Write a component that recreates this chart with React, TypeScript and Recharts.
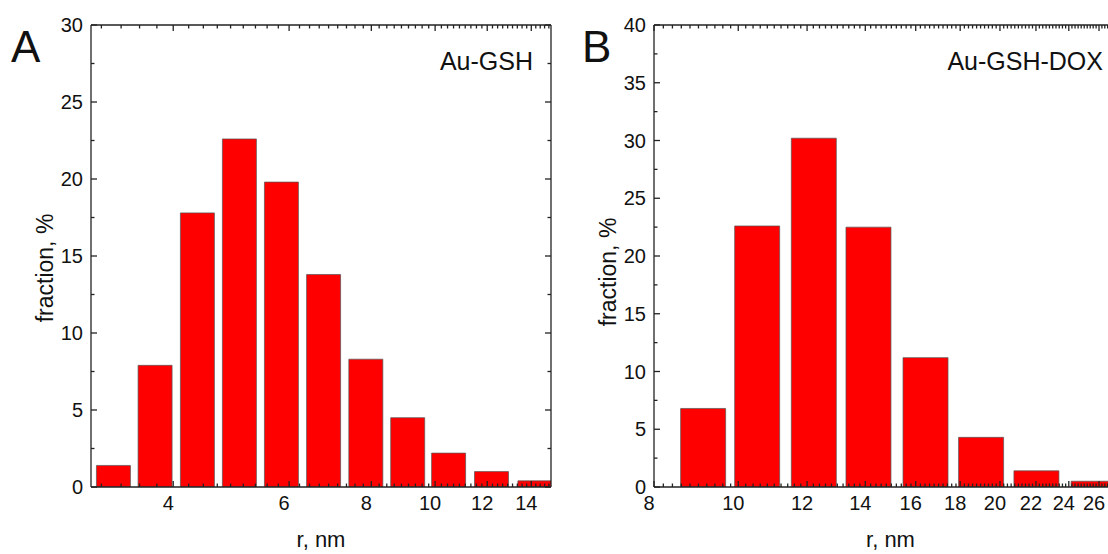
import { BarChart, Bar, XAxis, YAxis, ReferenceLine } from 'recharts';

// bin centres (nm) and fraction (%) per bin
const binsA = [3.25, 3.76, 4.36, 5.05, 5.85, 6.78, 7.86, 9.1, 10.5, 12.2, 14.2];
const fractionA = [1.4, 7.9, 17.8, 22.6, 19.8, 13.8, 8.3, 4.5, 2.2, 1.0, 0.4];

const binsB = [9.1, 10.5, 12.2, 14.1, 16.4, 19.0, 22.0, 25.6];
const fractionB = [6.8, 22.6, 30.2, 22.5, 11.2, 4.3, 1.4, 0.5];

const rTicksA = [4, 6, 8, 10, 12, 14];
const rTicksB = [8, 10, 12, 14, 16, 18, 20, 22, 24, 26];
const yTicksA = [0, 5, 10, 15, 20, 25, 30];
const yTicksB = [0, 5, 10, 15, 20, 25, 30, 35, 40];

const FONT = '"Liberation Sans", Arial, sans-serif';
const INK = '#111';
const AXIS = '#222';
const TOP = 25;
const BOTTOM = 487;

// major ticks plus evenly spaced minor ticks between them
const withMinors = (majors: number[], parts: number, lo: number, hi: number) => {
  const step = (majors[1] - majors[0]) / parts;
  const out: number[] = [];
  let v = majors[0];
  while (v - step > lo + 1e-6) v -= step;
  for (; v < hi - 1e-6; v += step) out.push(+v.toFixed(4));
  return out;
};

const isMajor = (majors: number[], v: number) => majors.some((m) => Math.abs(m - v) < 1e-6);

interface PanelProps {
  bins: number[];
  values: number[];
  rDomain: [number, number];
  rMajors: number[];
  rParts: number;
  yMajors: number[];
  width: number;
  axisWidth: number;
  barSize: number;
}

function Panel({ bins, values, rDomain, rMajors, rParts, yMajors, width, axisWidth, barSize }: PanelProps) {
  const data = bins.map((r, i) => ({ r, fraction: values[i] }));
  const left = axisWidth;
  const right = width - 9;
  const yMax = yMajors[yMajors.length - 1];
  const rTicks = withMinors(rMajors, rParts, rDomain[0], rDomain[1]);
  const yTicks = withMinors(yMajors, 2, -1, yMax + 1);
  const line = { stroke: AXIS, strokeWidth: 1.3 };

  // inward ticks on the bottom and top frame, labels under the majors
  const xTick = (p: any) => {
    const v = p.payload.value;
    const major = isMajor(rMajors, v);
    const len = major ? 6 : 3.5;
    return (
      <g>
        <line x1={p.x} x2={p.x} y1={BOTTOM} y2={BOTTOM - len} {...line} />
        <line x1={p.x} x2={p.x} y1={TOP} y2={TOP + len} {...line} />
        {major && (
          <text x={p.x - 5} y={BOTTOM + 23} textAnchor="middle" fontSize={20} fontFamily={FONT} fill={INK}>
            {v}
          </text>
        )}
      </g>
    );
  };
  const leftTick = (p: any) => {
    const v = p.payload.value;
    const major = isMajor(yMajors, v);
    return (
      <g>
        <line x1={left} x2={left + (major ? 6 : 3.5)} y1={p.y} y2={p.y} {...line} />
        {major && (
          <text x={left - 8} y={p.y + 7} textAnchor="end" fontSize={20} fontFamily={FONT} fill={INK}>
            {v}
          </text>
        )}
      </g>
    );
  };
  const rightTick = (p: any) => {
    const major = isMajor(yMajors, p.payload.value);
    return <line x1={right} x2={right - (major ? 6 : 3.5)} y1={p.y} y2={p.y} {...line} />;
  };

  return (
    <BarChart width={width} height={554} data={data} margin={{ top: 25, right: 8, bottom: 0, left: 0 }}>
      <XAxis
        xAxisId="r"
        dataKey="r"
        type="number"
        scale="log"
        domain={rDomain}
        allowDataOverflow
        ticks={rTicks}
        interval={0}
        tickLine={false}
        tick={xTick}
        height={67}
        axisLine={line}
        label={{ value: 'r, nm', position: 'insideBottom', offset: 7, fontSize: 22, fontFamily: FONT, fill: INK }}
      />
      <YAxis
        yAxisId="left"
        type="number"
        domain={[0, yMax]}
        allowDataOverflow
        ticks={yTicks}
        interval={0}
        tickLine={false}
        tick={leftTick}
        width={axisWidth}
        axisLine={line}
      />
      <YAxis
        yAxisId="right"
        orientation="right"
        type="number"
        domain={[0, yMax]}
        allowDataOverflow
        ticks={yTicks}
        interval={0}
        tickLine={false}
        tick={rightTick}
        width={1}
        axisLine={line}
      />
      <ReferenceLine xAxisId="r" yAxisId="left" y={yMax} {...line} />
      <Bar
        xAxisId="r"
        yAxisId="left"
        dataKey="fraction"
        fill="#ff0000"
        stroke="#555"
        strokeWidth={0.7}
        barSize={barSize}
        isAnimationActive={false}
      />
    </BarChart>
  );
}

export default function App() {
  return (
    <div style={{ position: 'fixed', left: 0, top: 0, width: 1108, height: 554, overflow: 'hidden', background: '#fff' }}>
      <div style={{ position: 'absolute', left: 0, top: 0 }}>
        <Panel
          bins={binsA}
          values={fractionA}
          rDomain={[3, 15]}
          rMajors={rTicksA}
          rParts={9}
          yMajors={yTicksA}
          width={560}
          axisWidth={91}
          barSize={34}
        />
      </div>
      <div style={{ position: 'absolute', left: 560, top: 0 }}>
        <Panel
          bins={binsB}
          values={fractionB}
          rDomain={[8, 28]}
          rMajors={rTicksB}
          rParts={10}
          yMajors={yTicksB}
          width={576}
          axisWidth={94}
          barSize={45}
        />
      </div>
      <svg width={1108} height={554} style={{ position: 'absolute', left: 0, top: 0, pointerEvents: 'none' }}>
        <g fontFamily={FONT} fill={INK}>
          <text x={11} y={62} fontSize={44}>A</text>
          <text x={582} y={62} fontSize={44}>B</text>
          <text x={533} y={70} fontSize={25} textAnchor="end">Au-GSH</text>
          <text x={1103} y={70} fontSize={25} textAnchor="end">Au-GSH-DOX</text>
          <text transform="translate(45,268) rotate(-90)" fontSize={23} textAnchor="middle" dominantBaseline="central">
            fraction, %
          </text>
          <text transform="translate(608,272) rotate(-90)" fontSize={23} textAnchor="middle" dominantBaseline="central">
            fraction, %
          </text>
        </g>
      </svg>
    </div>
  );
}
